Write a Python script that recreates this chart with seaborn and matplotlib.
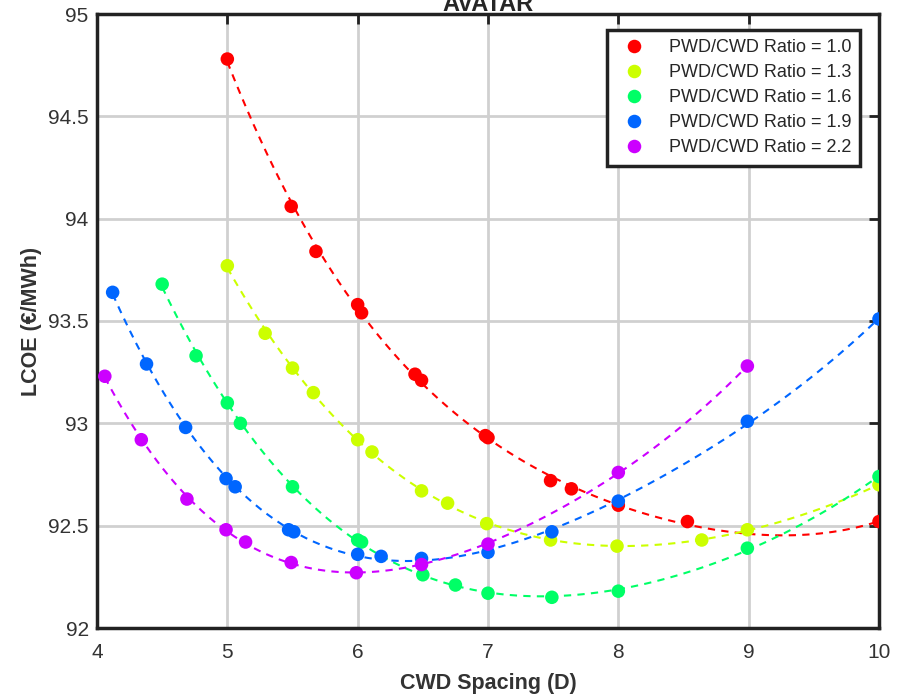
import numpy as np
import pandas as pd
import matplotlib
matplotlib.use("Agg")
import matplotlib.pyplot as plt
import seaborn as sns
from matplotlib.ticker import FuncFormatter

# ---- data ----
ratios = ["1.0", "1.3", "1.6", "1.9", "2.2"]
colors = ["#FF0000", "#CCFF00", "#00FF66", "#0066FF", "#CC00FF"]

x_r10 = [5.0, 5.49, 5.68, 6.0, 6.03, 6.44, 6.49, 6.98, 7.0, 7.48, 7.64, 8.0, 8.53, 10.0]
y_r10 = [94.78, 94.06, 93.84, 93.58, 93.54, 93.24, 93.21, 92.94, 92.93, 92.72, 92.68, 92.60, 92.52, 92.52]

x_r13 = [5.0, 5.29, 5.5, 5.66, 6.0, 6.11, 6.49, 6.69, 6.99, 7.48, 7.99, 8.64, 8.99, 10.0]
y_r13 = [93.77, 93.44, 93.27, 93.15, 92.92, 92.86, 92.67, 92.61, 92.51, 92.43, 92.40, 92.43, 92.48, 92.70]

x_r16 = [4.5, 4.76, 5.0, 5.1, 5.5, 6.0, 6.03, 6.5, 6.75, 7.0, 7.49, 8.0, 8.99, 10.0]
y_r16 = [93.68, 93.33, 93.10, 93.00, 92.69, 92.43, 92.42, 92.26, 92.21, 92.17, 92.15, 92.18, 92.39, 92.74]

x_r19 = [4.12, 4.38, 4.68, 4.99, 5.06, 5.47, 5.51, 6.0, 6.18, 6.49, 7.0, 7.49, 8.0, 8.99, 10.0]
y_r19 = [93.64, 93.29, 92.98, 92.73, 92.69, 92.48, 92.47, 92.36, 92.35, 92.34, 92.37, 92.47, 92.62, 93.01, 93.51]

x_r22 = [4.06, 4.34, 4.69, 4.99, 5.14, 5.49, 5.99, 6.49, 7.0, 8.0, 8.99]
y_r22 = [93.23, 92.92, 92.63, 92.48, 92.42, 92.32, 92.27, 92.31, 92.41, 92.76, 93.28]

xs = [x_r10, x_r13, x_r16, x_r19, x_r22]
ys = [y_r10, y_r13, y_r16, y_r19, y_r22]

x_ticks = [4, 5, 6, 7, 8, 9, 10]
y_ticks = [92, 92.5, 93, 93.5, 94, 94.5, 95]

labels = [f"PWD/CWD Ratio = {r}" for r in ratios]
frames = []
for lab, x, y in zip(labels, xs, ys):
    frames.append(pd.DataFrame({"CWD": x, "LCOE": y, "Ratio": lab}))
df = pd.concat(frames, ignore_index=True)

sns.set_style("white")
plt.rcParams["font.family"] = ["Liberation Sans", "DejaVu Sans"]

fig = plt.figure(figsize=(9.09, 6.98), dpi=100)
ax = fig.add_axes([97/909, 1-628/698, (879-97)/909, (628-14)/698])

# dashed polynomial fits
for lab, col in zip(labels, colors):
    sub = df[df["Ratio"] == lab]
    sns.regplot(data=sub, x="CWD", y="LCOE", order=4, ci=None, scatter=False,
                ax=ax, color=col, truncate=True,
                line_kws=dict(linestyle=(0, (3.5, 3)), linewidth=1.5, zorder=3))

sns.scatterplot(data=df, x="CWD", y="LCOE", hue="Ratio", hue_order=labels,
                palette=colors, s=95, edgecolor="none", ax=ax, zorder=4)

ax.set_xlim(4, 10)
ax.set_ylim(92, 95)
ax.set_xticks(x_ticks)
ax.set_yticks(y_ticks)
fmt = FuncFormatter(lambda v, p: f"{v:g}")
ax.xaxis.set_major_formatter(fmt)
ax.yaxis.set_major_formatter(fmt)
ax.grid(True, color="#d0d0d0", linewidth=2)
ax.set_axisbelow(True)
for s in ax.spines.values():
    s.set_visible(True)
    s.set_color("#222222")
    s.set_linewidth(2.5)
ax.tick_params(direction="in", length=7, width=2, color="#222222",
               top=True, right=True, labelsize=15, labelcolor="#333333")
ax.tick_params(axis="x", pad=11)
ax.tick_params(axis="y", pad=6)

ax.set_xlabel("CWD Spacing (D)", fontsize=15.5, fontweight="bold", color="#333333", labelpad=8)
ax.set_ylabel("LCOE (€/MWh)", fontsize=15.5, fontweight="bold", color="#333333")
ax.set_title("AVATAR", fontsize=17, fontweight="bold", pad=2)

leg = ax.legend(loc="upper right", bbox_to_anchor=(0.976, 0.974), borderaxespad=0,
                fontsize=13, frameon=True, fancybox=False, handletextpad=0.9,
                borderpad=0.5, labelspacing=0.45, markerscale=1.0)
leg.get_frame().set_edgecolor("#222222")
leg.get_frame().set_linewidth(2.5)
leg.get_frame().set_alpha(1)

fig.savefig("out.png", dpi=100)
